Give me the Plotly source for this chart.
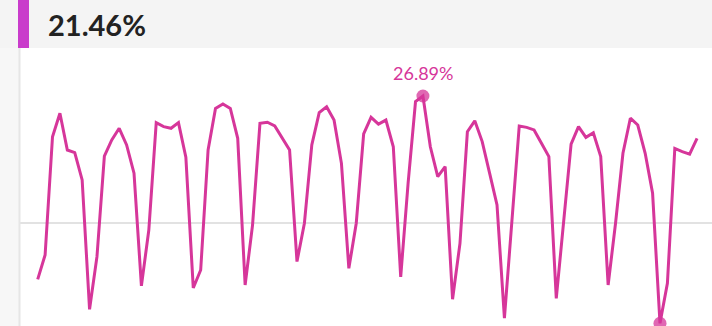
import plotly.graph_objects as go

# ---- data ----
days = list(range(90))
rate = [19.05, 20.09, 25.15, 26.15, 24.58, 24.47, 23.30, 17.77, 20.02, 24.32,
        25.01, 25.51, 24.80, 23.59, 18.77, 21.16, 25.75, 25.58, 25.51, 25.75,
        24.27, 18.68, 19.45, 24.58, 26.36, 26.55, 26.36, 25.08, 18.81, 21.37,
        25.72, 25.77, 25.61, 25.08, 24.58, 19.81, 21.45, 24.80, 26.18, 26.43,
        25.86, 24.01, 19.52, 21.45, 25.27, 25.98, 25.69, 25.86, 24.72, 19.16,
        23.16, 26.65, 26.89, 24.72, 23.44, 23.87, 18.20, 20.59, 25.36, 25.83,
        24.94, 23.59, 22.23, 17.39, 21.45, 25.61, 25.55, 25.44, 24.87, 24.30,
        18.24, 21.45, 24.83, 25.58, 25.12, 25.32, 24.30, 18.81, 21.45, 24.44,
        25.94, 25.65, 24.44, 22.73, 17.17, 18.88, 24.65, 24.51, 24.40, 25.08]
headline = "21.46%"
reference = 21.46

LINE = "#d6369a"
BAR = "#c93ccb"

imax = rate.index(max(rate))
imin = rate.index(min(rate))

fig = go.Figure()
fig.add_trace(go.Scatter(x=days, y=rate, mode="lines",
                         line=dict(color=LINE, width=3), hoverinfo="skip"))
fig.add_trace(go.Scatter(x=[days[imax], days[imin]], y=[rate[imax], rate[imin]],
                         mode="markers",
                         marker=dict(color=LINE, size=13, opacity=0.75),
                         hoverinfo="skip"))

fig.add_annotation(x=days[imax], y=rate[imax], text=f"{rate[imax]:.2f}%",
                   showarrow=False, yanchor="bottom", yshift=10,
                   font=dict(family="Lato", size=18, color=LINE))

fig.add_annotation(xref="paper", yref="paper", x=26/692, y=1 + 24/278,
                   xanchor="left", yanchor="middle", text=f"<b>{headline}</b>",
                   showarrow=False,
                   font=dict(family="Lato", size=29, color="#222222"))

# reference line
fig.add_shape(type="line", xref="paper", yref="y", x0=0, x1=1,
              y0=reference, y1=reference,
              line=dict(color="#e2e2e2", width=2), layer="below")
# header band + accent bar
fig.add_shape(type="rect", xref="paper", yref="paper",
              x0=-20/692, x1=1, y0=1, y1=1 + 48/278,
              fillcolor="#f4f4f4", line=dict(width=0), layer="below")
fig.add_shape(type="rect", xref="paper", yref="paper",
              x0=-2/692, x1=9/692, y0=1, y1=1 + 48/278,
              fillcolor=BAR, line=dict(width=0))
# left divider
fig.add_shape(type="line", xref="paper", yref="paper",
              x0=-0.5/692, x1=-0.5/692, y0=0, y1=1,
              line=dict(color="#e6e6e6", width=2))

fig.update_layout(
    width=712, height=326,
    margin=dict(l=20, r=0, t=48, b=0),
    paper_bgcolor="#f7f7f7", plot_bgcolor="#ffffff",
    showlegend=False,
    xaxis=dict(range=[-2.389, 91.02], visible=False, fixedrange=True),
    yaxis=dict(range=[17.056, 28.942], visible=False, fixedrange=True),
)

fig.write_html("out.html", config={"displayModeBar": False})
